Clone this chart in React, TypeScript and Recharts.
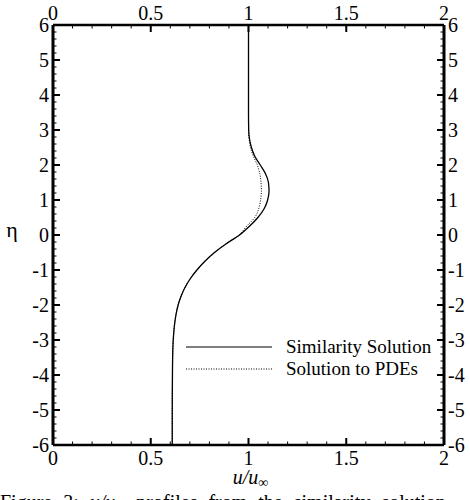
import React from 'react';
import { LineChart, Line, XAxis, YAxis, Legend } from 'recharts';

const FONT = '"Liberation Serif", "Times New Roman", Times, serif';

// eta (vertical coordinate) samples
const etaValues = [6, 5, 4, 3.5, 3, 2.75, 2.5, 2.25, 2, 1.75, 1.5, 1.25, 1, 0.75, 0.5, 0.25, 0, -0.25, -0.5, -0.75, -1, -1.25, -1.5, -1.75, -2, -2.25, -2.5, -3, -3.5, -4, -5, -6];
// u/u_inf for the similarity solution
const similarityU = [1.0, 1.0, 1.0, 1.0, 1.001, 1.005, 1.015, 1.032, 1.06, 1.087, 1.102, 1.105, 1.098, 1.08, 1.048, 1.005, 0.954, 0.886, 0.826, 0.777, 0.736, 0.702, 0.675, 0.655, 0.64, 0.63, 0.623, 0.615, 0.612, 0.611, 0.61, 0.61];
// u/u_inf for the PDE solution
const pdeU = [1.0, 1.0, 1.0, 1.0, 1.0, 1.003, 1.01, 1.025, 1.045, 1.058, 1.064, 1.066, 1.062, 1.052, 1.032, 0.99, 0.952, 0.886, 0.826, 0.777, 0.736, 0.702, 0.675, 0.655, 0.64, 0.63, 0.623, 0.615, 0.612, 0.611, 0.61, 0.61];

const seriesNames = ['Similarity Solution', 'Solution to PDEs'];

const uMajorTicks = [0, 0.5, 1, 1.5, 2];
const uTickLabels = ['0', '0.5', '1', '1.5', '2'];
const uAllTicks = [0, 0.1, 0.2, 0.3, 0.4, 0.5, 0.6, 0.7, 0.8, 0.9, 1, 1.1, 1.2, 1.3, 1.4, 1.5, 1.6, 1.7, 1.8, 1.9, 2];

const etaMajorTicks = [-6, -5, -4, -3, -2, -1, 0, 1, 2, 3, 4, 5, 6];
const etaTickLabels = ['-6', '-5', '-4', '-3', '-2', '-1', '0', '1', '2', '3', '4', '5', '6'];
const etaAllTicks = [
  -6, -5.8, -5.6, -5.4, -5.2, -5, -4.8, -4.6, -4.4, -4.2, -4, -3.8, -3.6, -3.4, -3.2,
  -3, -2.8, -2.6, -2.4, -2.2, -2, -1.8, -1.6, -1.4, -1.2, -1, -0.8, -0.6, -0.4, -0.2,
  0, 0.2, 0.4, 0.6, 0.8, 1, 1.2, 1.4, 1.6, 1.8, 2, 2.2, 2.4, 2.6, 2.8,
  3, 3.2, 3.4, 3.6, 3.8, 4, 4.2, 4.4, 4.6, 4.8, 5, 5.2, 5.4, 5.6, 5.8, 6,
];

const simData = etaValues.map((eta, i) => ({ u: similarityU[i], eta }));
const pdeData = etaValues.map((eta, i) => ({ u: pdeU[i], eta }));

const majorIndex = (v: number, majors: number[]) => majors.findIndex((m) => Math.abs(m - v) < 1e-6);

const makeTick = (side: 'bottom' | 'top' | 'left' | 'right') => (props: any) => {
  const { x, y, payload } = props;
  const v = payload.value;
  const isX = side === 'bottom' || side === 'top';
  const idx = majorIndex(v, isX ? uMajorTicks : etaMajorTicks);
  const major = idx >= 0;
  const len = major ? 7 : 3.5;
  const sw = major ? 2 : 1;
  const labelText = major ? (isX ? uTickLabels[idx] : etaTickLabels[idx]) : null;
  const textProps = { fontFamily: FONT, fontSize: 20, fill: '#000' };
  if (side === 'bottom') {
    return (
      <g>
        <line x1={x} x2={x} y1={y} y2={y - len} stroke="#000" strokeWidth={sw} />
        {labelText && <text x={x} y={y + 20} textAnchor="middle" {...textProps}>{labelText}</text>}
      </g>
    );
  }
  if (side === 'top') {
    return (
      <g>
        <line x1={x} x2={x} y1={y} y2={y + len} stroke="#000" strokeWidth={sw} />
        {labelText && <text x={x} y={y - 5} textAnchor="middle" {...textProps}>{labelText}</text>}
      </g>
    );
  }
  if (side === 'left') {
    return (
      <g>
        <line x1={x} x2={x + len} y1={y} y2={y} stroke="#000" strokeWidth={sw} />
        {labelText && <text x={x - 4} y={y + 6.5} textAnchor="end" {...textProps}>{labelText}</text>}
      </g>
    );
  }
  return (
    <g>
      <line x1={x} x2={x - len} y1={y} y2={y} stroke="#000" strokeWidth={sw} />
      {labelText && <text x={x + 4} y={y + 6.5} textAnchor="start" {...textProps}>{labelText}</text>}
    </g>
  );
};

const XLabel = (props: any) => {
  const vb = props.viewBox || { x: 0, y: 0, width: 0 };
  const cx = vb.x + vb.width / 2;
  return (
    <text x={cx + 2} y={vb.y + 39} textAnchor="middle" fontFamily={FONT} fontSize={20} fontStyle="italic" fill="#000">
      u/u
      <tspan fontStyle="normal" fontSize={14} dy={3}>∞</tspan>
    </text>
  );
};

const YLabel = (props: any) => {
  const vb = props.viewBox || { x: 0, y: 0, height: 0 };
  const cy = vb.y + vb.height / 2;
  return (
    <text x={12} y={cy + 2} textAnchor="middle" fontFamily={FONT} fontSize={22} fill="#000">
      η
    </text>
  );
};

const LegendContent = (props: any) => {
  const payload = props.payload || [];
  return (
    <svg width={270} height={50} style={{ overflow: 'visible' }}>
      {payload.map((entry: any, i: number) => (
        <g key={i}>
          <line
            x1={0}
            x2={86}
            y1={8 + i * 22}
            y2={8 + i * 22}
            stroke="#000"
            strokeWidth={i === 0 ? 1.2 : 1}
            strokeDasharray={i === 0 ? undefined : '1 1.5'}
          />
          <text x={100} y={14 + i * 22} fontFamily={FONT} fontSize={19} fill="#000">
            {entry.value}
          </text>
        </g>
      ))}
    </svg>
  );
};

export default function App() {
  return (
    <div style={{ position: 'absolute', left: 0, top: 0, width: 470, height: 500, overflow: 'hidden', background: '#fff' }}>
      <LineChart
        width={470}
        height={500}
        margin={{ top: 24, right: 25, bottom: 54, left: 52 }}
      >
        <XAxis
          xAxisId="bottom"
          orientation="bottom"
          type="number"
          dataKey="u"
          domain={[0, 2]}
          ticks={uAllTicks}
          interval={0}
          height={1}
          tickSize={0}
          tickMargin={0}
          tickLine={false}
          tick={makeTick('bottom')}
          axisLine={{ stroke: '#000', strokeWidth: 2.5 }}
          allowDataOverflow
          label={<XLabel />}
        />
        <XAxis
          xAxisId="top"
          orientation="top"
          type="number"
          dataKey="u"
          domain={[0, 2]}
          ticks={uAllTicks}
          interval={0}
          height={1}
          tickSize={0}
          tickMargin={0}
          tickLine={false}
          tick={makeTick('top')}
          axisLine={{ stroke: '#000', strokeWidth: 2.5 }}
          allowDataOverflow
        />
        <YAxis
          yAxisId="left"
          orientation="left"
          type="number"
          domain={[-6, 6]}
          ticks={etaAllTicks}
          interval={0}
          width={1}
          tickSize={0}
          tickMargin={0}
          tickLine={false}
          tick={makeTick('left')}
          axisLine={{ stroke: '#000', strokeWidth: 3 }}
          allowDataOverflow
          label={<YLabel />}
        />
        <YAxis
          yAxisId="right"
          orientation="right"
          type="number"
          domain={[-6, 6]}
          ticks={etaAllTicks}
          interval={0}
          width={1}
          tickSize={0}
          tickMargin={0}
          tickLine={false}
          tick={makeTick('right')}
          axisLine={{ stroke: '#000', strokeWidth: 3 }}
          allowDataOverflow
        />
        <Legend
          layout="horizontal"
          verticalAlign="middle"
          align="center"
          content={<LegendContent />}
          wrapperStyle={{ position: 'absolute', left: 186, top: 339, width: 270, height: 50 }}
        />
        <Line
          data={simData}
          xAxisId="bottom"
          yAxisId="left"
          dataKey="eta"
          name={seriesNames[0]}
          type="monotoneY"
          stroke="#000"
          strokeWidth={1.3}
          dot={false}
          activeDot={false}
          isAnimationActive={false}
        />
        <Line
          data={pdeData}
          xAxisId="bottom"
          yAxisId="left"
          dataKey="eta"
          name={seriesNames[1]}
          type="monotoneY"
          stroke="#000"
          strokeWidth={1}
          strokeDasharray="1 1.5"
          dot={false}
          activeDot={false}
          isAnimationActive={false}
        />
      </LineChart>
      <div
        style={{
          position: 'absolute',
          left: 0,
          top: 491,
          fontFamily: FONT,
          fontSize: 20,
          lineHeight: '22px',
          whiteSpace: 'nowrap',
          wordSpacing: 6,
          color: '#000',
        }}
      >
        Figure 3: <i>u/u</i><sub style={{ fontSize: 14 }}>∞</sub> profiles from the similarity solution
      </div>
    </div>
  );
}
